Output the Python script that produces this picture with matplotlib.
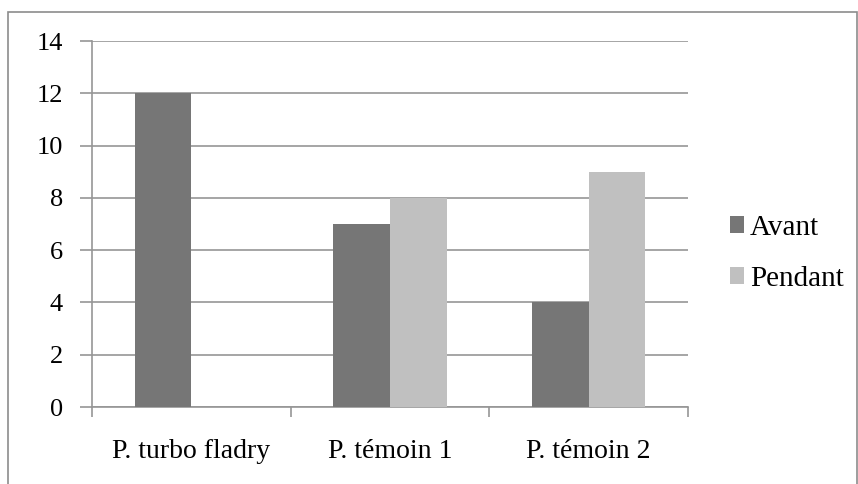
import matplotlib
matplotlib.use("Agg")
import matplotlib.pyplot as plt
from matplotlib.patches import Rectangle
import numpy as np

categories = ["P. turbo fladry", "P. témoin 1", "P. témoin 2"]
avant = [12, 7, 4]
pendant = [0, 8, 9]
series_names = ["Avant", "Pendant"]
yticks = [0, 2, 4, 6, 8, 10, 12, 14]

plt.rcParams['font.family'] = ['Liberation Serif', 'DejaVu Serif']

W, H = 858, 484
fig = plt.figure(figsize=(W/100, H/100), dpi=100)
ax = fig.add_axes([92/W, 1-407/H, (688-92)/W, (407-41)/H])

# figure border
fig.patches.append(Rectangle((8/W, -0.05), (857-8)/W, 1.05-12/H, transform=fig.transFigure,
                             fill=False, edgecolor='#8c8c8c', linewidth=1.2))

x = np.arange(len(categories))
bw = 1/3.5
gc = '#969696'
ax.bar(x - bw/2, avant, bw, color='#767676', label=series_names[0], zorder=3)
ax.bar(x + bw/2, pendant, bw, color='#c0c0c0', label=series_names[1], zorder=3)

ax.set_xlim(-0.5, len(categories) - 0.5)
ax.set_ylim(0, 14)
ax.set_yticks(yticks)
ax.yaxis.grid(True, color=gc, linewidth=1.2, zorder=0)
for s in ['top', 'right']:
    ax.spines[s].set_visible(False)
for s in ['left', 'bottom']:
    ax.spines[s].set_color(gc)
    ax.spines[s].set_linewidth(1.2)
ax.tick_params(axis='y', length=9, color=gc, width=1.2, labelsize=19, pad=12)
ax.set_xticks(np.arange(-0.5, len(categories)), minor=False)
ax.set_xticklabels([])
ax.set_xticks(x, minor=True)
ax.set_xticklabels(categories, minor=True)
ax.tick_params(axis='x', which='major', length=7, color=gc, width=1.2)
ax.tick_params(axis='x', which='minor', length=0, labelsize=20, pad=23)

leg = ax.legend(loc='center left', bbox_to_anchor=(1.07, 0.42), frameon=False, fontsize=21,
                handlelength=0.5, handleheight=0.5, handletextpad=0.2, labelspacing=0.85,
                borderpad=0, borderaxespad=0)

fig.savefig("out.png", dpi=100)
